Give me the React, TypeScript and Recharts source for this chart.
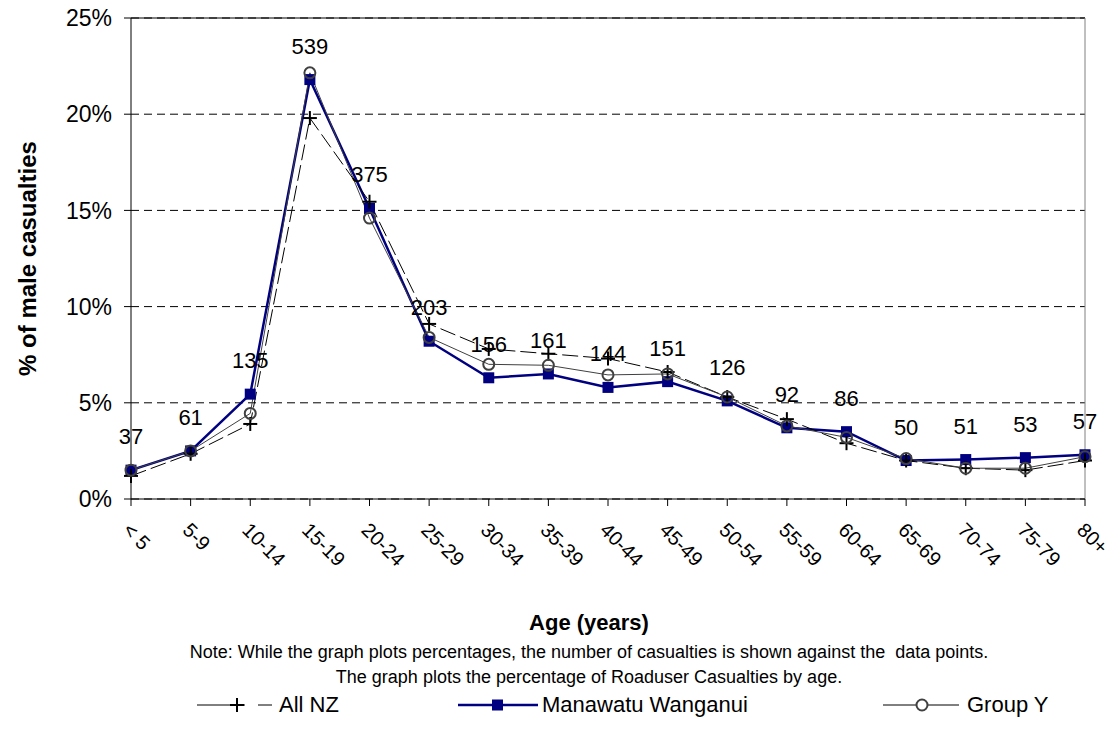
import { LineChart, Line, XAxis, YAxis, CartesianGrid, Legend, LabelList, ReferenceLine } from "recharts";

const ageGroups = ["< 5", "5-9", "10-14", "15-19", "20-24", "25-29", "30-34", "35-39", "40-44", "45-49", "50-54", "55-59", "60-64", "65-69", "70-74", "75-79", "80+"];
const casualtyCounts = [37, 61, 135, 539, 375, 203, 156, 161, 144, 151, 126, 92, 86, 50, 51, 53, 57];
const allNz = [1.2, 2.35, 3.9, 19.8, 15.45, 9.1, 7.8, 7.55, 7.3, 6.6, 5.3, 4.15, 2.9, 2.0, 1.6, 1.5, 2.0];
const manawatu = [1.5, 2.5, 5.45, 21.8, 15.1, 8.2, 6.3, 6.5, 5.8, 6.1, 5.1, 3.7, 3.5, 2.0, 2.05, 2.15, 2.3];
const groupY = [1.5, 2.5, 4.45, 22.15, 14.6, 8.4, 7.0, 6.95, 6.45, 6.5, 5.3, 3.8, 3.2, 2.1, 1.6, 1.6, 2.2];
const yTicks = [0, 5, 10, 15, 20, 25];

const data = ageGroups.map((age, i) => ({
  age,
  count: casualtyCounts[i],
  allNz: allNz[i],
  manawatu: manawatu[i],
  groupY: groupY[i],
}));

const FONT = "'Liberation Sans', Arial, sans-serif";
const NAVY = "#000080";

const PlusDot = (props: any) => {
  const { cx, cy } = props;
  if (cx == null || cy == null) return null;
  return (
    <g>
      <line x1={cx - 7} y1={cy} x2={cx + 7} y2={cy} stroke="#000" strokeWidth={2} />
      <line x1={cx} y1={cy - 7} x2={cx} y2={cy + 7} stroke="#000" strokeWidth={2} />
    </g>
  );
};

const SquareDot = (props: any) => {
  const { cx, cy } = props;
  if (cx == null || cy == null) return null;
  return <rect x={cx - 5.5} y={cy - 5.5} width={11} height={11} fill={NAVY} />;
};

const CircleDot = (props: any) => {
  const { cx, cy } = props;
  if (cx == null || cy == null) return null;
  return <circle cx={cx} cy={cy} r={5.5} fill="none" stroke="#404040" strokeWidth={2} />;
};

const AgeTick = (props: any) => {
  const { x, y, payload } = props;
  return (
    <text
      x={x}
      y={y}
      transform={`rotate(45 ${x} ${y})`}
      dx={10}
      dy={23}
      textAnchor="start"
      fontSize={20}
      fontFamily={FONT}
      fill="#000"
    >
      {payload.value}
    </text>
  );
};

const legendText = { fontSize: 22, fontFamily: FONT, color: "#000" };

const BottomLegend = () => (
  <div style={{ position: "relative", width: 1117, height: 140, fontFamily: FONT, color: "#000" }}>
    <div style={{ position: "absolute", top: 10, left: 61, width: 1056, textAlign: "center", fontSize: 22, fontWeight: "bold" }}>
      Age (years)
    </div>
    <div style={{ position: "absolute", top: 40, left: 61, width: 1056, textAlign: "center", fontSize: 18, lineHeight: "25px", whiteSpace: "pre" }}>
      {"Note: While the graph plots percentages, the number of casualties is shown against the  data points.\nThe graph plots the percentage of Roaduser Casualties by age."}
    </div>
    <div style={{ position: "absolute", top: 92, left: 197, display: "flex", alignItems: "center", ...legendText }}>
      <svg width={76} height={24}>
        <line x1={0} y1={12} x2={48} y2={12} stroke="#000" strokeWidth={1} />
        <line x1={33} y1={12} x2={47} y2={12} stroke="#000" strokeWidth={2} />
        <line x1={40} y1={5} x2={40} y2={19} stroke="#000" strokeWidth={2} />
        <line x1={61} y1={12} x2={75} y2={12} stroke="#000" strokeWidth={1} />
      </svg>
      <span style={{ marginLeft: 6 }}>All NZ</span>
    </div>
    <div style={{ position: "absolute", top: 92, left: 458, display: "flex", alignItems: "center", ...legendText }}>
      <svg width={80} height={24}>
        <line x1={0} y1={12} x2={80} y2={12} stroke={NAVY} strokeWidth={2.5} />
        <rect x={34} y={6.5} width={11} height={11} fill={NAVY} />
      </svg>
      <span style={{ marginLeft: 4 }}>Manawatu Wanganui</span>
    </div>
    <div style={{ position: "absolute", top: 92, left: 883, display: "flex", alignItems: "center", ...legendText }}>
      <svg width={76} height={24}>
        <line x1={0} y1={12} x2={76} y2={12} stroke="#000" strokeWidth={1} />
        <circle cx={39} cy={12} r={5.5} fill="#fff" stroke="#404040" strokeWidth={2} />
      </svg>
      <span style={{ marginLeft: 8 }}>Group Y</span>
    </div>
  </div>
);

export default function App() {
  return (
    <div style={{ position: "absolute", left: 0, top: 0, width: 1117, height: 740, background: "#fff", overflow: "hidden" }}>
      <LineChart width={1117} height={740} data={data} margin={{ top: 18, right: 32, bottom: 0, left: 0 }}>
        <CartesianGrid vertical={false} stroke="#000" strokeDasharray="8 5" />
        <ReferenceLine y={25} stroke="#000" strokeWidth={1} />
        <ReferenceLine x="80+" stroke="#808080" strokeWidth={1} />
        <XAxis
          dataKey="age"
          interval={0}
          height={101}
          tickSize={7}
          stroke="#000"
          tick={<AgeTick />}
        />
        <YAxis
          domain={[0, 25]}
          ticks={yTicks}
          width={131}
          tickSize={7}
          tickMargin={12}
          stroke="#000"
          tickFormatter={(v: number) => `${v}%`}
          tick={{ fontSize: 23, fontFamily: FONT, fill: "#000" }}
          label={{
            value: "% of male casualties",
            angle: -90,
            position: "insideLeft",
            dx: 22,
            style: { fontSize: 24, fontWeight: "bold", fontFamily: FONT, fill: "#000", textAnchor: "middle" },
          }}
        />
        <Legend verticalAlign="bottom" content={<BottomLegend />} wrapperStyle={{ left: 0, width: 1117, height: 140 }} />
        <Line
          type="linear"
          dataKey="manawatu"
          name="Manawatu Wanganui"
          stroke={NAVY}
          strokeWidth={2.5}
          dot={<SquareDot />}
          isAnimationActive={false}
        >
          <LabelList dataKey="count" position="top" offset={26} fontSize={22} fontFamily={FONT} fill="#000" />
        </Line>
        <Line
          type="linear"
          dataKey="allNz"
          name="All NZ"
          stroke="#000"
          strokeWidth={1}
          strokeDasharray="16 5"
          dot={<PlusDot />}
          isAnimationActive={false}
        />
        <Line
          type="linear"
          dataKey="groupY"
          name="Group Y"
          stroke="#404040"
          strokeWidth={1}
          dot={<CircleDot />}
          isAnimationActive={false}
        />
      </LineChart>
    </div>
  );
}
